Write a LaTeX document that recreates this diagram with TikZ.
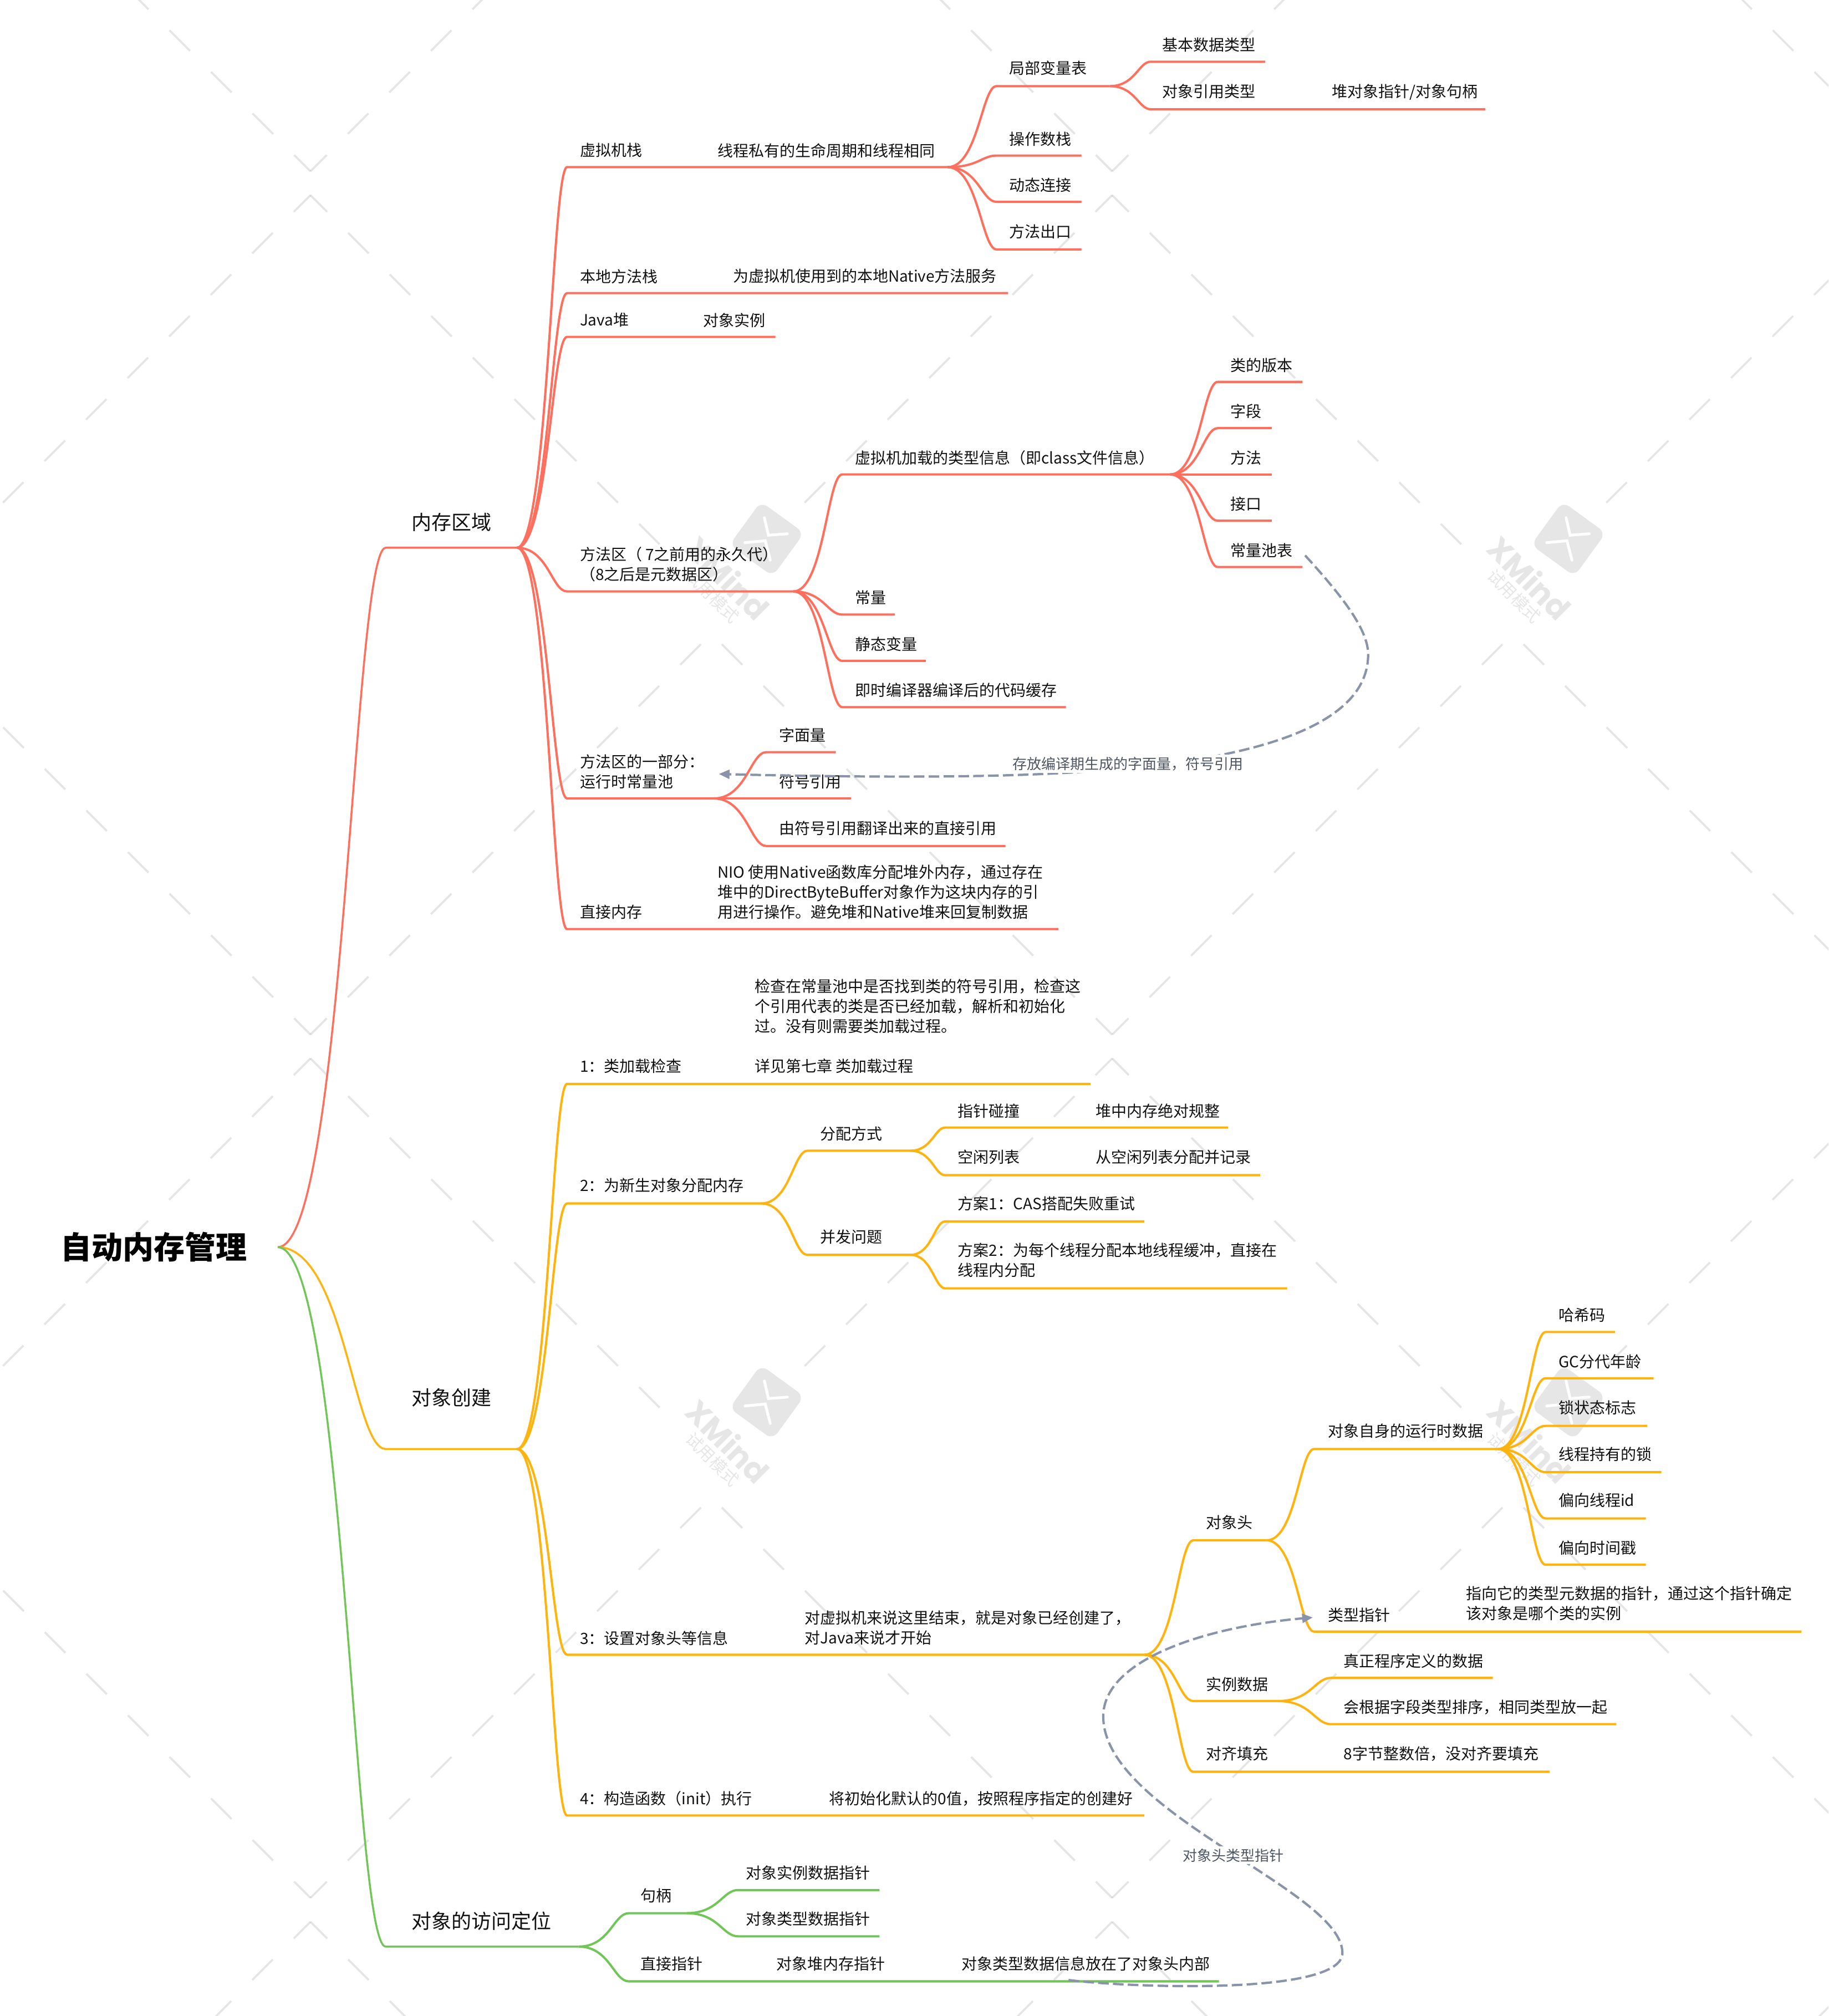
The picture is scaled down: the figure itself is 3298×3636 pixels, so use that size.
\documentclass[tikz,border=0pt]{standalone}
\usepackage{fontspec}
\setmainfont{Noto Sans CJK SC}
\newfontfamily\wmfont{Poppins}
\usetikzlibrary{calc,arrows.meta}
\definecolor{cred}{HTML}{FF6F5E}
\definecolor{corg}{HTML}{FFB30F}
\definecolor{cgrn}{HTML}{72C558}
\definecolor{cdash}{HTML}{8A94A8}
\definecolor{clab}{HTML}{4F5663}
\definecolor{cwm}{HTML}{E6E6E6}
\definecolor{ctxt}{HTML}{111111}
\tikzset{
  redl/.style={draw=cred,line width=1.02pt,line join=round},
  orgl/.style={draw=corg,line width=1.02pt,line join=round},
  grnl/.style={draw=cgrn,line width=1.02pt,line join=round},
  redr/.style={draw=cred,line width=.88pt,line join=round},
  orgr/.style={draw=corg,line width=.88pt,line join=round},
  grnr/.style={draw=cgrn,line width=.88pt,line join=round},
  tx/.style={anchor=west,inner sep=0pt,outer sep=0pt,text=ctxt,align=left,font=\fontsize{7}{9}\selectfont},
  txl/.style={tx,font=\fontsize{9}{11}\selectfont},
  rel/.style={draw=cdash,line width=1.05pt,dash pattern=on 4.8pt off 1.9pt},
  rellab/.style={inner sep=1pt,fill=white,text=clab,font=\fontsize{6.5}{8}\selectfont},
  wml/.style={draw=black,draw opacity=.1,line width=.9pt,dash pattern=on 13.1pt off 13.4pt},
}
\newcommand{\bra}[6]{%
  \coordinate (#2s) at (#3,#5);
  \coordinate (#2e) at (#4,#5);
  \draw[#6] let \p1=(#1),\p2=(#2s) in (#1) .. controls ($(\p1)+({.62*(\x2-\x1)},0pt)$) and ($(\p2)-({.3*(\x2-\x1)},0pt)$) .. (#2s) -- (#2e);}
\newcommand{\tx}[4]{\node[tx] (#1) at (#2,#3) {#4};}
\begin{document}
\begin{tikzpicture}[x=0.57982pt,y=-0.57972pt]
% bounding box and watermark, in pixels of the reference
\begin{scope}[x=.25pt,y=-.25pt]
\useasboundingbox (0,0) rectangle (3298,3636);
\begin{scope}
\clip (0,0) rectangle (3298,3636);
\foreach \i in {-1,0,1,2}{\foreach \j in {-1,0,1,2}{
  \pgfmathsetmacro{\ax}{560+1446*\i}
  \pgfmathsetmacro{\ay}{352+1557*\j}
  \draw[wml,dash phase=2.47pt] (\ax,\ay) -- ++(640,640);
  \draw[wml,dash phase=2.47pt] (\ax,\ay) -- ++(-640,640);
  \pgfmathsetmacro{\bx}{1283+1446*\i}
  \pgfmathsetmacro{\by}{1143+1557*\j}
  \draw[wml,dash phase=19.8pt] (\bx,\by) -- ++(723,723);
  \draw[wml,dash phase=19.8pt] (\bx,\by) -- ++(-723,723);
}}
\end{scope}
\foreach \lx/\ly/\nm in {1383/972/a,2829/972/b,1383/2529/c,2829/2529/d}{
\begin{scope}[shift={(\lx,\ly)}]
  \fill[cwm,rounded corners=3.7pt] (-10.7,-67.3) -- (67.3,-10.7) -- (10.7,67.3) -- (-67.3,10.7) -- cycle;
  \draw[white,line width=1.25pt,line cap=round] (-4.3,-38.3) -- (3,-6.7) -- (37.3,-9.3);
  \draw[white,line width=1.25pt,line cap=round] (-39.3,6.7) -- (-2.7,3.3) -- (6.3,38.3);
  \node[rotate=-45,text=cwm,inner sep=0pt,font=\wmfont\bfseries\fontsize{14}{16}\selectfont] (wm\nm1) at (-70,70) {XMind};
  \node[rotate=-45,text=cwm,inner sep=0pt,font=\fontsize{7.5}{9}\selectfont] (wm\nm2) at (-98,103) {试用模式};
\end{scope}}
\end{scope}
% root
\coordinate (root) at (216,970);
\node[inner sep=0pt,anchor=west,text=black,font=\bfseries\fontsize{14}{16}\selectfont] (title) at (47,970) {自动内存管理};
% ---------- red
\bra{root}{A}{300}{402}{426}{redr}
\node[txl] (nA) at (320,406) {内存区域};
\bra{Ae}{A1}{441}{737}{130}{redl}
\tx{nA1}{451}{117}{虚拟机栈}
\tx{nA1b}{558}{117}{线程私有的生命周期和线程相同}
\bra{A1e}{A11}{775}{863}{67}{redl}
\tx{nA11}{785}{53}{局部变量表}
\bra{A11e}{A111}{895}{984}{48}{redl}
\tx{nA111}{904}{35}{基本数据类型}
\bra{A11e}{A112}{895}{1155}{85}{redl}
\tx{nA112}{904}{71}{对象引用类型}
\tx{nA112b}{1036}{71.7}{堆对象指针/对象句柄}
\bra{A1e}{A12}{775}{841}{121}{redl}
\tx{nA12}{785}{108}{操作数栈}
\bra{A1e}{A13}{775}{841}{157}{redl}
\tx{nA13}{785}{144}{动态连接}
\bra{A1e}{A14}{775}{841}{194}{redl}
\tx{nA14}{785}{180}{方法出口}
\bra{Ae}{A2}{441}{784}{228}{redl}
\tx{nA2}{451}{215}{本地方法栈}
\tx{nA2b}{570}{214.5}{为虚拟机使用到的本地Native方法服务}
\bra{Ae}{A3}{441}{603}{262}{redl}
\tx{nA3}{451}{249}{Java堆}
\tx{nA3b}{547}{249}{对象实例}
\bra{Ae}{A4}{441}{617}{460}{redl}
\tx{nA4}{451}{439}{方法区（ 7之前用的永久代）\\（8之后是元数据区）}
\bra{A4e}{A41}{655}{910}{369}{redl}
\tx{nA41}{665}{356}{虚拟机加载的类型信息（即class文件信息）}
\bra{A41e}{A411}{947}{1013}{297}{redl}
\tx{nA411}{957}{284}{类的版本}
\bra{A41e}{A412}{947}{989}{333}{redl}
\tx{nA412}{957}{320}{字段}
\bra{A41e}{A413}{947}{989}{369}{redl}
\tx{nA413}{957}{356}{方法}
\bra{A41e}{A414}{947}{989}{405}{redl}
\tx{nA414}{957}{392}{接口}
\bra{A41e}{A415}{947}{1013}{441}{redl}
\tx{nA415}{957}{428}{常量池表}
\bra{A4e}{A42}{655}{696}{478}{redl}
\tx{nA42}{665}{465}{常量}
\bra{A4e}{A43}{655}{720}{514}{redl}
\tx{nA43}{665}{501}{静态变量}
\bra{A4e}{A44}{655}{829}{550}{redl}
\tx{nA44}{665}{537}{即时编译器编译后的代码缓存}
\bra{Ae}{A5}{441}{555}{621}{redl}
\tx{nA5}{451}{600}{方法区的一部分：\\运行时常量池}
\bra{A5e}{A51}{596}{650}{585}{redl}
\tx{nA51}{606}{571.5}{字面量}
\bra{A5e}{A52}{596}{662}{621}{redl}
\tx{nA52}{606}{608}{符号引用}
\bra{A5e}{A53}{596}{782}{658}{redl}
\tx{nA53}{606}{644.3}{由符号引用翻译出来的直接引用}
\bra{Ae}{A6}{441}{823}{722.6}{redl}
\tx{nA6}{451}{709.5}{直接内存}
\tx{nA6b}{558}{694}{NIO 使用Native函数库分配堆外内存，通过存在\\堆中的DirectByteBuffer对象作为这块内存的引\\用进行操作。避免堆和Native堆来回复制数据}
% ---------- orange
\bra{root}{B}{300}{402}{1127}{orgr}
\node[txl] (nB) at (320,1087) {对象创建};
\bra{Be}{B1}{441}{848}{843}{orgl}
\tx{nB1}{451}{829}{1：类加载检查}
\tx{nB1b}{587}{798}{检查在常量池中是否找到类的符号引用，检查这\\个引用代表的类是否已经加载，解析和初始化\\过。没有则需要类加载过程。\\[9pt]详见第七章 类加载过程}
\bra{Be}{B2}{441}{592}{936}{orgl}
\tx{nB2}{451}{922}{2：为新生对象分配内存}
\bra{B2e}{B21}{628}{708}{895}{orgl}
\tx{nB21}{638}{882}{分配方式}
\bra{B21e}{B211}{735}{955}{877}{orgl}
\tx{nB211}{745}{864}{指针碰撞}
\tx{nB211b}{852}{864}{堆中内存绝对规整}
\bra{B21e}{B212}{735}{980}{914}{orgl}
\tx{nB212}{745}{900}{空闲列表}
\tx{nB212b}{852}{900}{从空闲列表分配并记录}
\bra{B2e}{B22}{628}{708}{976}{orgl}
\tx{nB22}{638}{962}{并发问题}
\bra{B22e}{B221}{735}{890}{950}{orgl}
\tx{nB221}{745}{936}{方案1：CAS搭配失败重试}
\bra{B22e}{B222}{735}{1001}{1002}{orgl}
\tx{nB222}{745}{980}{方案2：为每个线程分配本地线程缓冲，直接在\\线程内分配}
\bra{Be}{B3}{441}{890}{1287}{orgl}
\tx{nB3}{451}{1274}{3：设置对象头等信息}
\tx{nB3b}{626}{1266}{对虚拟机来说这里结束，就是对象已经创建了，\\对Java来说才开始}
\bra{B3e}{B31}{928}{985}{1198}{orgl}
\tx{nB31}{938}{1184}{对象头}
\bra{B31e}{B311}{1022}{1165}{1127}{orgl}
\tx{nB311}{1033}{1113}{对象自身的运行时数据}
\bra{B311e}{C1}{1202}{1256}{1036}{orgl}
\tx{nC1}{1212}{1023}{哈希码}
\bra{B311e}{C2}{1202}{1286}{1072}{orgl}
\tx{nC2}{1212}{1059}{GC分代年龄}
\bra{B311e}{C3}{1202}{1281}{1109}{orgl}
\tx{nC3}{1212}{1095}{锁状态标志}
\bra{B311e}{C4}{1202}{1292}{1145}{orgl}
\tx{nC4}{1212}{1131}{线程持有的锁}
\bra{B311e}{C5}{1202}{1280}{1181}{orgl}
\tx{nC5}{1212}{1167}{偏向线程id}
\bra{B311e}{C6}{1202}{1280}{1217}{orgl}
\tx{nC6}{1212}{1204}{偏向时间戳}
\bra{B31e}{B312}{1022}{1401}{1269}{orgl}
\tx{nB312}{1033}{1256}{类型指针}
\tx{nB312b}{1140}{1247}{指向它的类型元数据的指针，通过这个指针确定\\该对象是哪个类的实例}
\bra{B3e}{B32}{928}{994}{1323}{orgl}
\tx{nB32}{938}{1310}{实例数据}
\bra{B32e}{B321}{1035}{1161}{1305}{orgl}
\tx{nB321}{1045}{1292}{真正程序定义的数据}
\bra{B32e}{B322}{1035}{1257}{1341}{orgl}
\tx{nB322}{1045}{1328}{会根据字段类型排序，相同类型放一起}
\bra{B3e}{B33}{928}{1205}{1378}{orgl}
\tx{nB33}{938}{1364}{对齐填充}
\tx{nB33b}{1045}{1364}{8字节整数倍，没对齐要填充}
\bra{Be}{B4}{441}{890}{1412}{orgl}
\tx{nB4}{451}{1399}{4：构造函数（init）执行}
\tx{nB4b}{645}{1399}{将初始化默认的0值，按照程序指定的创建好}
% ---------- green
\bra{root}{G}{300}{450}{1514}{grnr}
\node[txl] (nG) at (320,1494) {对象的访问定位};
\bra{Ge}{G1}{489}{534}{1488}{grnl}
\tx{nG1}{498}{1474.5}{句柄}
\bra{G1e}{G11}{574}{684}{1470}{grnl}
\tx{nG11}{580}{1456.5}{对象实例数据指针}
\bra{G1e}{G12}{574}{684}{1506}{grnl}
\tx{nG12}{580}{1492.5}{对象类型数据指针}
\bra{Ge}{G2}{489}{948}{1541}{grnl}
\tx{nG2}{498}{1527.5}{直接指针}
\tx{nG2b}{604}{1527.5}{对象堆内存指针}
\tx{nG2c}{748}{1527.5}{对象类型数据信息放在了对象头内部}
% ---------- relationships
\coordinate (r1a) at (1015,432);
\coordinate (r1b) at (559,602);
\draw[rel,-{Triangle[length=4.8pt,width=4pt,fill=cdash]}] (r1a) .. controls (1045,465) and (1064,490) .. (1064,509) .. controls (1064,600) and (830,604) .. (700,604) .. controls (650,604) and (600,603) .. (r1b);
\node[rellab] (lab1) at (877,594) {存放编译期生成的字面量，符号引用};
\coordinate (r2a) at (831,1540);
\coordinate (r2b) at (1021,1258);
\draw[rel,-{Triangle[length=4.8pt,width=4pt,fill=cdash]}] (r2a) .. controls (880,1546) and (1044,1552) .. (1044,1519) .. controls (1044,1470) and (858,1410) .. (858,1335) .. controls (858,1290) and (940,1265) .. (r2b);
\node[rellab] (lab2) at (959,1443) {对象头类型指针};
\end{tikzpicture}
\end{document}
